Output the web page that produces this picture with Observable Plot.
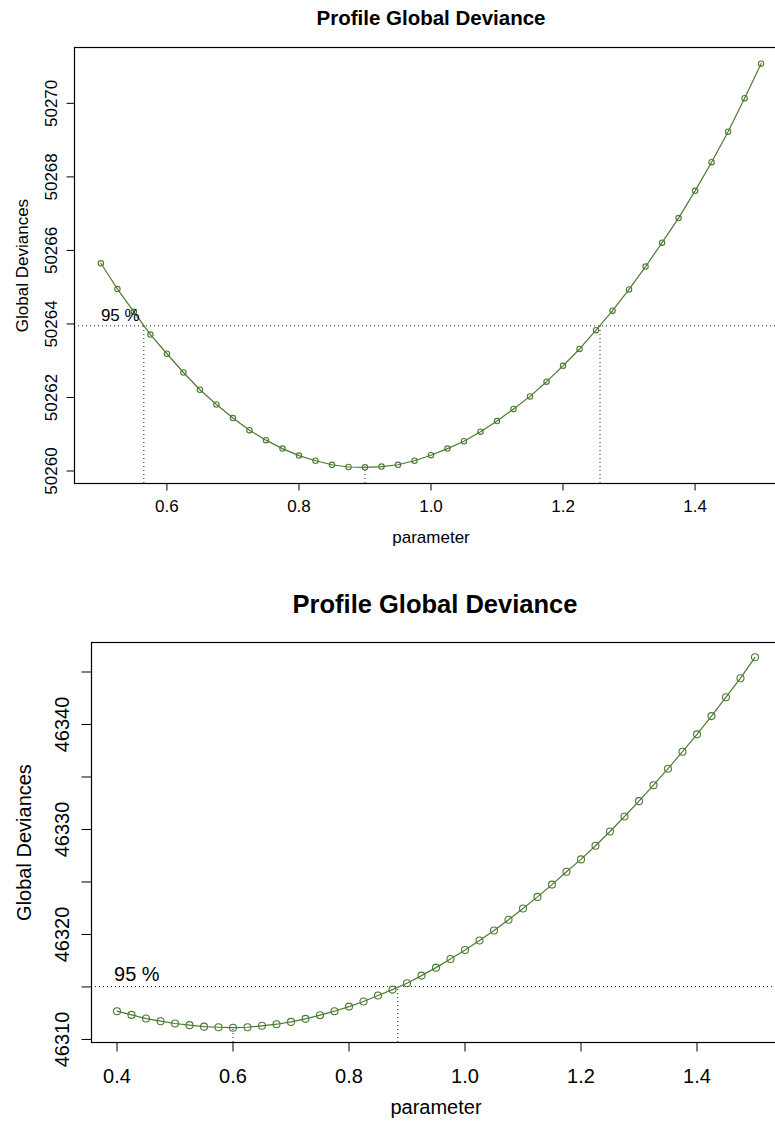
<!DOCTYPE html>
<html>
<head>
<meta charset="utf-8">
<script src="https://cdn.jsdelivr.net/npm/d3@7"></script>
<script src="https://cdn.jsdelivr.net/npm/@observablehq/plot@0.6"></script>
<style>
  html, body { margin: 0; padding: 0; background: #fff; }
  #wrap { position: relative; width: 775px; height: 1123px; overflow: hidden; background: #fff;
          font-family: "Liberation Sans", Arial, Helvetica, sans-serif; color: #000; }
  .title { position: absolute; font-weight: bold; white-space: nowrap; transform: translateX(-50%); }
  .panel { position: absolute; left: 0; }
</style>
</head>
<body>
<div id="wrap">
  <div class="title" id="title1" style="left:431px; top:7.6px; font-size:20.5px; line-height:20.5px;">Profile Global Deviance</div>
  <div class="panel" id="panel1" style="top:40px;"></div>
  <div class="title" id="title2" style="left:435px; top:592px; font-size:25.5px; line-height:25.5px;">Profile Global Deviance</div>
  <div class="panel" id="panel2" style="top:560px;"></div>
</div>
<script>
// ---------------- Data: top panel ----------------
const topParam = [0.5, 0.525, 0.55, 0.575, 0.6, 0.625, 0.65, 0.675, 0.7, 0.725, 0.75, 0.775, 0.8, 0.825, 0.85, 0.875, 0.9, 0.925, 0.95, 0.975,
                  1.0, 1.025, 1.05, 1.075, 1.1, 1.125, 1.15, 1.175, 1.2, 1.225, 1.25, 1.275, 1.3, 1.325, 1.35, 1.375, 1.4, 1.425, 1.45, 1.475, 1.5];
const topDeviance = [50265.65, 50264.95, 50264.33, 50263.71, 50263.19, 50262.68, 50262.21, 50261.81, 50261.44, 50261.11, 50260.84, 50260.61,
                     50260.42, 50260.28, 50260.17, 50260.11, 50260.10, 50260.12, 50260.17, 50260.28, 50260.43, 50260.61, 50260.81, 50261.07,
                     50261.36, 50261.69, 50262.03, 50262.43, 50262.86, 50263.32, 50263.83, 50264.36, 50264.94, 50265.56, 50266.21, 50266.88,
                     50267.62, 50268.40, 50269.23, 50270.14, 50271.08];
const topLevel = 50263.95;          // 95 % reference level
const topCI = [0.565, 1.256];       // CI limits
const topMLE = 0.9;                 // parameter at minimum
const topXTicks = [0.6, 0.8, 1.0, 1.2, 1.4];
const topYTicks = [50260, 50262, 50264, 50266, 50268, 50270];

// ---------------- Data: bottom panel ----------------
const botParam = [0.4, 0.425, 0.45, 0.475, 0.5, 0.525, 0.55, 0.575, 0.6, 0.625, 0.65, 0.675, 0.7, 0.725, 0.75, 0.775, 0.8, 0.825, 0.85, 0.875,
                  0.9, 0.925, 0.95, 0.975, 1.0, 1.025, 1.05, 1.075, 1.1, 1.125, 1.15, 1.175, 1.2, 1.225, 1.25, 1.275, 1.3, 1.325, 1.35, 1.375,
                  1.4, 1.425, 1.45, 1.475, 1.5];
const botDeviance = [46312.69, 46312.34, 46311.99, 46311.74, 46311.52, 46311.36, 46311.22, 46311.16, 46311.12, 46311.16, 46311.30, 46311.45,
                     46311.67, 46311.96, 46312.31, 46312.69, 46313.13, 46313.61, 46314.18, 46314.75, 46315.35, 46316.08, 46316.84, 46317.66,
                     46318.52, 46319.43, 46320.38, 46321.40, 46322.47, 46323.58, 46324.75, 46325.98, 46327.15, 46328.45, 46329.81, 46331.24,
                     46332.70, 46334.22, 46335.79, 46337.41, 46339.06, 46340.80, 46342.60, 46344.41, 46346.40];
const botLevel = 46315.04;
const botCI = [0.884];
const botMLE = 0.6;
const botXTicks = [0.4, 0.6, 0.8, 1.0, 1.2, 1.4];
const botYTicks = [46310, 46315, 46320, 46325, 46330, 46335, 46340, 46345];

const labels = { x: "parameter", y: "Global Deviances", level: "95 %" };
const green = "#4b7b33";
const font = "Liberation Sans, Arial, Helvetica, sans-serif";

// R-style 4% axis extension
function rDomain(v) {
  const [a, b] = d3.extent(v);
  const p = (b - a) * 0.04;
  return [a - p, b + p];
}

function panel(o) {
  const data = o.param.map((x, i) => ({ x, y: o.dev[i] }));
  const xd = rDomain(o.param), yd = rDomain(o.dev);
  const minDev = d3.min(o.dev);
  return Plot.plot({
    width: o.width, height: o.height,
    marginLeft: o.ml, marginRight: 1, marginTop: o.mt, marginBottom: o.mb,
    style: { background: "transparent", overflow: "visible", maxWidth: "none", fontFamily: font, fontSize: o.fs + "px", color: "#000" },
    x: { domain: xd },
    y: { domain: yd },
    marks: [
      Plot.ruleY([o.level], { stroke: "#222", strokeWidth: 1, strokeDasharray: "1 3" }),
      Plot.ruleX(o.ci, { x: d => d, y1: yd[0], y2: o.level, stroke: "#222", strokeWidth: 1, strokeDasharray: "1 3" }),
      Plot.ruleX([o.mle], { x: d => d, y1: yd[0], y2: minDev, stroke: "#222", strokeWidth: 1, strokeDasharray: "1 3" }),
      Plot.line(data, { x: "x", y: "y", stroke: green, strokeWidth: 1.2 }),
      Plot.dot(data, { x: "x", y: "y", r: o.r, stroke: green, fill: "none", strokeWidth: 1.1 }),
      Plot.text([labels.level], { x: o.param[0], y: o.level, text: d => d, textAnchor: "start", lineAnchor: "bottom",
                                  dx: o.lvlDx, dy: o.lvlDy, fontSize: o.fs, fill: "#000" }),
      Plot.axisX({ ticks: o.xTicks, tickFormat: d3.format(".1f"), tickSize: o.ts, tickPadding: o.xPad,
                   fontSize: o.fs, label: null, stroke: "#000" }),
      Plot.axisY({ ticks: o.yTicks, tickFormat: o.yFmt, tickSize: o.ts, tickPadding: o.yPad, tickRotate: -90,
                   fontSize: o.fs, label: null, stroke: "#000" }),
      Plot.text([labels.x], { frameAnchor: "bottom", text: d => d, lineAnchor: "bottom", dy: o.xLabDy, fontSize: o.fs, fill: "#000" }),
      Plot.text([labels.y], { frameAnchor: "left", text: d => d, rotate: -90, textAnchor: "middle", lineAnchor: "bottom",
                              dx: o.yLabDx, fontSize: o.fs, fill: "#000" }),
      Plot.frame({ stroke: "#000", strokeWidth: 1.2 })
    ]
  });
}

document.getElementById("panel1").appendChild(panel({
  param: topParam, dev: topDeviance, level: topLevel, ci: topCI, mle: topMLE,
  xTicks: topXTicks, yTicks: topYTicks, yFmt: d => String(d),
  width: 788, height: 520, ml: 74, mt: 7, mb: 77,
  fs: 17, ts: 7.5, xPad: 8.5, yPad: 10, r: 2.7,
  lvlDx: 0, lvlDy: -4.5, xLabDy: 59, yLabDx: -47
}));

document.getElementById("panel2").appendChild(panel({
  param: botParam, dev: botDeviance, level: botLevel, ci: botCI, mle: botMLE,
  xTicks: botXTicks, yTicks: botYTicks, yFmt: d => (d % 10 === 0 ? String(d) : ""),
  width: 781, height: 563, ml: 91, mt: 82, mb: 81,
  fs: 20, ts: 9.5, xPad: 17, yPad: 13, r: 3.5,
  lvlDx: -3, lvlDy: -5.5, xLabDy: 71, yLabDx: -61
}));
</script>
</body>
</html>
